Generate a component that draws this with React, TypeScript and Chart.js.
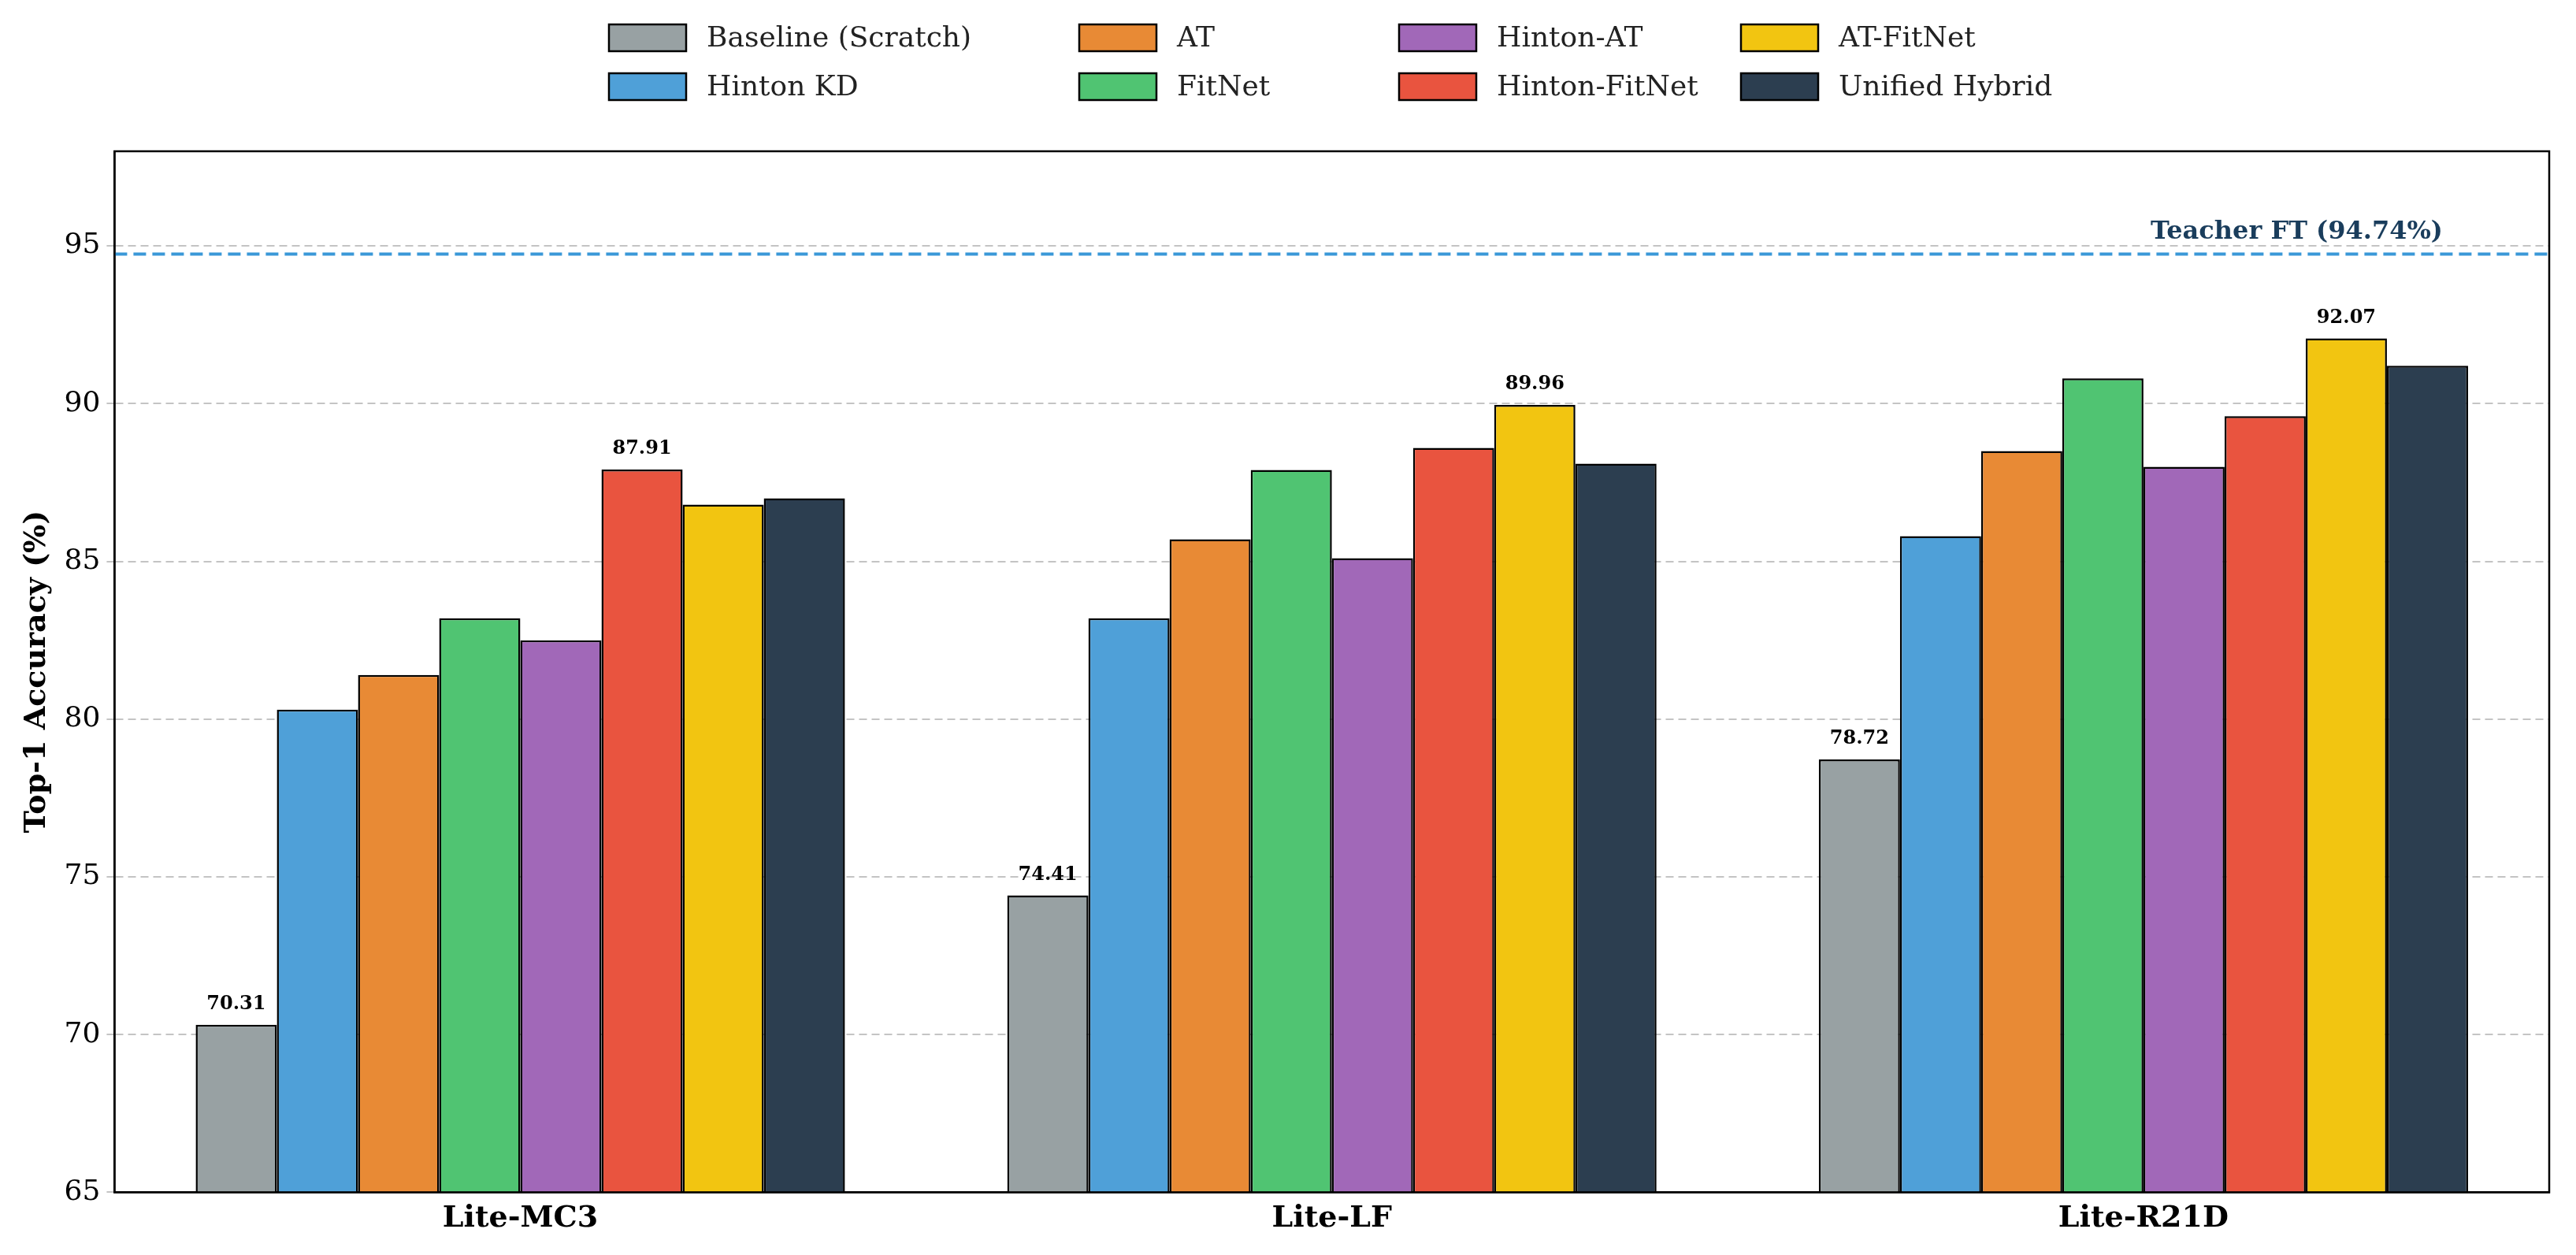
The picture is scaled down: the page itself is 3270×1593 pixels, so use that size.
import React, { useEffect, useRef } from "react";
import { Chart, registerables } from "chart.js";

Chart.register(...registerables);

const categories = ["Lite-MC3", "Lite-LF", "Lite-R21D"];
const methods = ["Baseline (Scratch)", "Hinton KD", "AT", "FitNet", "Hinton-AT", "Hinton-FitNet", "AT-FitNet", "Unified Hybrid"];
const colors = ["#98a1a3", "#4fa0d8", "#e88a35", "#50c472", "#a168b8", "#e9543f", "#f2c511", "#2c3e50"];
const values = [
  [70.31, 74.41, 78.72],
  [80.3, 83.2, 85.8],
  [81.4, 85.7, 88.5],
  [83.2, 87.9, 90.8],
  [82.5, 85.1, 88.0],
  [87.91, 88.6, 89.6],
  [86.8, 89.96, 92.07],
  [87.0, 88.1, 91.2],
];
const teacher = 94.74;
const yTicks = [65, 70, 75, 80, 85, 90, 95];
const FONT = "'DejaVu Serif', serif";

const extras = {
  id: "extras",
  afterDatasetsDraw(chart: any) {
    const ctx = chart.ctx;
    const { left, right, top, bottom } = chart.chartArea;
    const ys = chart.scales.y;
    // teacher line
    const ty = ys.getPixelForValue(teacher);
    ctx.save();
    ctx.strokeStyle = "#3a98d8";
    ctx.lineWidth = 4;
    ctx.setLineDash([16, 8]);
    ctx.beginPath();
    ctx.moveTo(left, ty);
    ctx.lineTo(right, ty);
    ctx.stroke();
    ctx.setLineDash([]);
    ctx.fillStyle = "#1a3d5c";
    ctx.font = `bold 32px ${FONT}`;
    ctx.textAlign = "right";
    ctx.textBaseline = "bottom";
    ctx.fillText(`Teacher FT (${teacher}%)`, right - 135, ty - 12);
    // value labels: baseline and best per group
    ctx.font = `bold 24px ${FONT}`;
    ctx.fillStyle = "#000";
    ctx.textAlign = "center";
    categories.forEach((_, ci) => {
      let best = 0;
      values.forEach((s, si) => { if (s[ci] > values[best][ci]) best = si; });
      [0, best].forEach((si) => {
        const el = chart.getDatasetMeta(si).data[ci];
        ctx.fillText(values[si][ci].toFixed(2), el.x, el.y - 14);
      });
    });
    // frame
    ctx.strokeStyle = "#000";
    ctx.lineWidth = 2.5;
    ctx.strokeRect(left, top, right - left, bottom - top);
    // legend
    const colX = [773, 1370, 1776, 2210];
    const rowY = [48, 110];
    ctx.font = `36px ${FONT}`;
    ctx.textAlign = "left";
    ctx.textBaseline = "middle";
    methods.forEach((m, i) => {
      const x = colX[Math.floor(i / 2)];
      const y = rowY[i % 2];
      ctx.fillStyle = colors[i];
      ctx.fillRect(x, y - 17, 98, 34);
      ctx.strokeStyle = "#000";
      ctx.lineWidth = 2.5;
      ctx.strokeRect(x, y - 17, 98, 34);
      ctx.fillStyle = "#222";
      ctx.fillText(m, x + 124, y + 2);
    });
    ctx.restore();
  },
};

export default function App() {
  const canvasRef = useRef<HTMLCanvasElement | null>(null);
  const chartRef = useRef<Chart | null>(null);

  useEffect(() => {
    document.body.style.margin = "0";
    const ctx = canvasRef.current?.getContext("2d");
    if (!ctx) return;
    if (chartRef.current) chartRef.current.destroy();
    chartRef.current = new Chart(ctx, {
      type: "bar",
      data: {
        labels: categories,
        datasets: methods.map((m, i) => ({
          label: m,
          data: values[i],
          backgroundColor: colors[i],
          borderColor: "#000",
          borderWidth: 2.5,
          borderSkipped: false,
          categoryPercentage: 0.8,
          barPercentage: 1.0,
        })),
      },
      options: {
        animation: false,
        responsive: false,
        layout: { padding: { top: 192, right: 34, left: 20, bottom: 20 } },
        plugins: { legend: { display: false }, tooltip: { enabled: false } },
        scales: {
          x: {
            grid: { display: false },
            border: { color: "#000", width: 2.5 },
            ticks: { color: "#000", font: { family: FONT, size: 38, weight: "bold" } },
          },
          y: {
            min: 65,
            max: 98,
            afterBuildTicks: (s: any) => { s.ticks = yTicks.map((v) => ({ value: v })); },
            grid: { color: "#c4c4c4", lineWidth: 2, drawTicks: true, tickLength: 10 } as any,
            border: { color: "#000", width: 2.5, dash: [10, 6] } as any,
            ticks: { color: "#000", font: { family: FONT, size: 36 }, padding: 8 },
            title: { display: true, text: "Top-1 Accuracy (%)", color: "#000", font: { family: FONT, size: 38, weight: "bold" } },
          },
        },
      },
      plugins: [extras],
    });
    return () => { chartRef.current?.destroy(); chartRef.current = null; };
  }, []);

  return (
    <div style={{ width: 3270, height: 1593, background: "#fff" }}>
      <canvas ref={canvasRef} width={3270} height={1593} style={{ width: 3270, height: 1593 }} />
    </div>
  );
}
